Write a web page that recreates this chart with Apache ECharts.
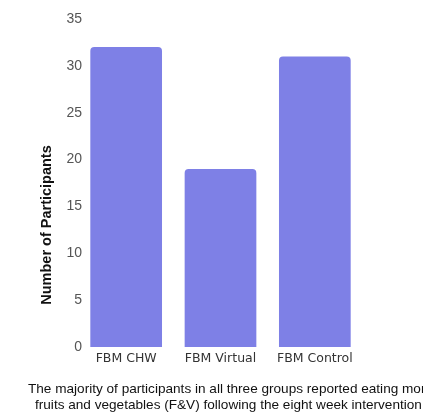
<!DOCTYPE html>
<html>
<head>
<meta charset="utf-8">
<script src="https://cdn.jsdelivr.net/npm/echarts@6/dist/echarts.min.js"></script>
<style>
  html, body { margin: 0; padding: 0; background: #ffffff; }
  #chart { width: 423px; height: 413px; }
</style>
</head>
<body>
<div id="chart"></div>
<script>
// Study groups and how many participants reported eating more F&V
const groups = ['FBM CHW', 'FBM Virtual', 'FBM Control'];
const participants = [32, 19, 31];
const yTicks = [0, 5, 10, 15, 20, 25, 30, 35];

const yTitle = 'Number of Participants';
const captionLines = [
  'The majority of participants in all three groups reported eating more',
  'fruits and vegetables (F&V) following the eight week intervention.'
];

const chart = echarts.init(document.getElementById('chart'), null, { renderer: 'canvas' });

chart.setOption({
  animation: false,
  backgroundColor: '#ffffff',
  title: {
    text: 'Self-Reported F&V Consumption per Group',
    left: 'center',
    top: -24,
    textStyle: { fontFamily: 'Liberation Sans', fontSize: 18, fontWeight: 'bold', color: '#111111' }
  },
  grid: { left: 79, right: 61, top: 19, bottom: 66, containLabel: false },
  xAxis: {
    type: 'category',
    data: groups,
    axisLine: { show: false },
    axisTick: { show: false },
    axisLabel: {
      interval: 0, hideOverlap: false, margin: 5,
      fontFamily: 'DejaVu Sans', fontSize: 12.5, color: '#333333'
    }
  },
  yAxis: {
    type: 'value',
    min: yTicks[0],
    max: yTicks[yTicks.length - 1],
    interval: 5,
    splitLine: { show: false },
    axisLine: { show: false },
    axisTick: { show: false },
    axisLabel: { margin: -3, fontFamily: 'Liberation Sans', fontSize: 14, color: '#555555' }
  },
  series: [{
    type: 'bar',
    data: participants,
    barCategoryGap: '24%',
    itemStyle: { color: '#7e80e6', borderRadius: [4, 4, 0, 0] }
  }],
  graphic: [
    {
      type: 'text',
      x: 47,
      y: 225,
      rotation: Math.PI / 2,
      style: {
        text: yTitle, fontFamily: 'Liberation Sans', fontSize: 14.5, fontWeight: 'bold',
        fill: '#111111', align: 'center', verticalAlign: 'middle'
      }
    }
  ].concat(captionLines.map((line, i) => ({
    type: 'text',
    left: i === 0 ? 28 : 35,
    top: 382 + i * 16,
    style: { text: line, fontFamily: 'Liberation Sans', fontSize: 13.6, fill: '#111111' }
  })))
});
</script>
</body>
</html>
